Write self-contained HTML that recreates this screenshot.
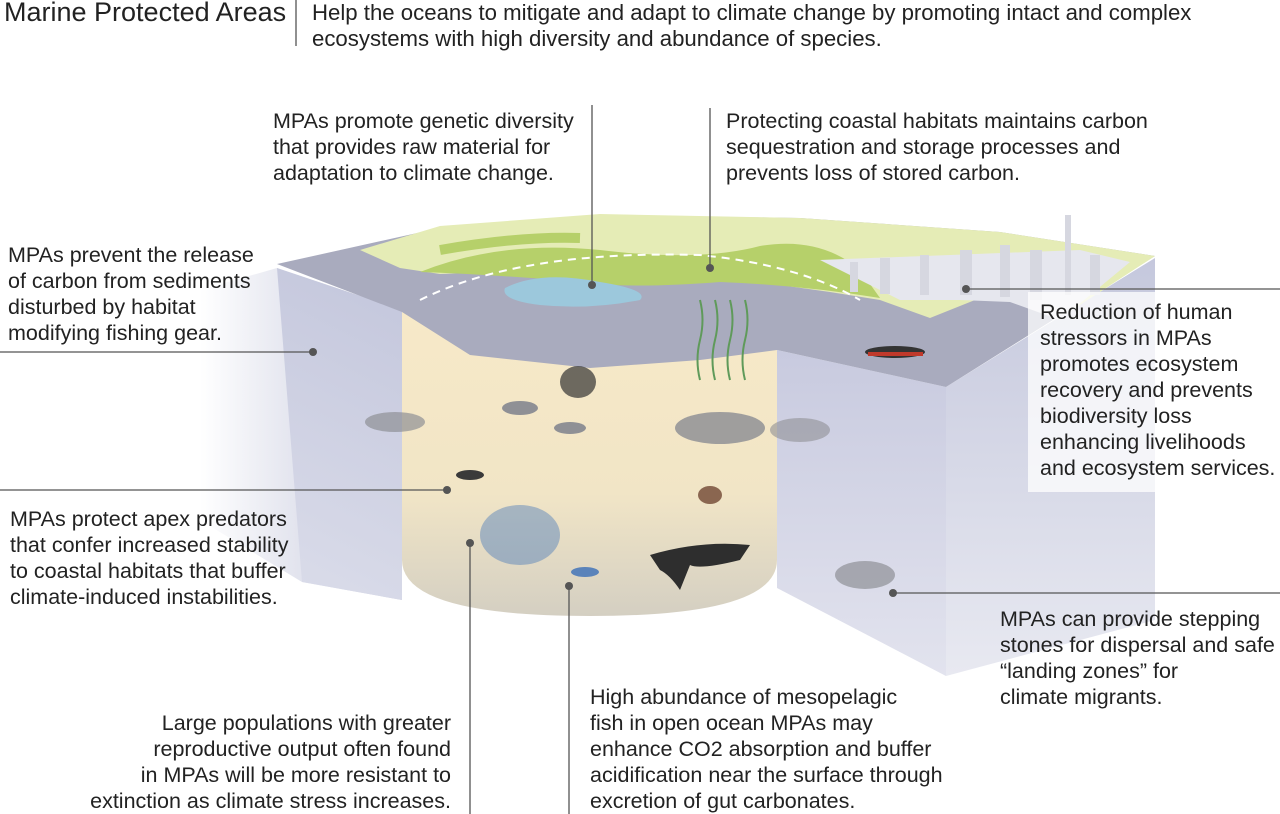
<!DOCTYPE html>
<html><head><meta charset="utf-8"><style>
body{margin:0;width:1280px;height:814px;background:#fff;overflow:hidden;position:relative;font-family:"Liberation Sans",Arial,sans-serif;color:#222}
.t{position:absolute;font-size:21.5px;line-height:26px;white-space:nowrap}
</style></head><body>
<svg width="1280" height="814" style="position:absolute;left:0;top:0">
<defs>
<linearGradient id="lf" x1="1" y1="0" x2="0" y2="0"><stop offset="0" stop-color="#c4c7dc"/><stop offset="1" stop-color="#c4c7dc" stop-opacity="0"/></linearGradient>
<linearGradient id="lf2" x1="0" y1="0" x2="0" y2="1"><stop offset="0" stop-color="#c3c6dc"/><stop offset="1" stop-color="#d9dbe9"/></linearGradient>
<linearGradient id="rf" x1="0" y1="0" x2="0" y2="1"><stop offset="0" stop-color="#c8cadf"/><stop offset="1" stop-color="#e2e3ee"/></linearGradient>
<linearGradient id="rf2" x1="0" y1="0" x2="0" y2="1"><stop offset="0" stop-color="#c5c8dd"/><stop offset="1" stop-color="#e8e9f1"/></linearGradient>
<linearGradient id="cy" x1="0" y1="0" x2="0" y2="1"><stop offset="0" stop-color="#f7e9c8"/><stop offset="0.6" stop-color="#f1e5c6"/><stop offset="1" stop-color="#d4cfc2"/></linearGradient>
</defs>
<polygon points="277,268 402,310 402,600 302,582 200,520 200,290" fill="url(#lf)"/>
<polygon points="277,268 402,310 402,600 302,582" fill="url(#lf2)" opacity="0.9"/>
<polygon points="777,350 946,387 946,676 777,588" fill="url(#rf)"/>
<polygon points="946,387 1155,258 1155,620 946,676" fill="url(#rf2)"/>
<path d="M402,310 L402,560 Q402,616 590,616 Q777,616 777,560 L777,350 Z" fill="url(#cy)"/>
<polygon points="277,264 440,228 600,215 800,218 1000,232 1155,256 946,387 777,350 700,360 590,368 470,355 402,312" fill="#a9abbe"/>
<path d="M360,250 L440,226 L600,214 L800,218 L1000,232 L1155,256 L1060,318 L1010,300 L975,300 L930,318 L880,300 L830,292 L780,285 L700,280 L640,282 L560,276 L500,272 L440,274 L400,268 Z" fill="#e5ecb6"/>
<path d="M420,272 Q500,240 600,250 Q700,262 760,246 Q820,236 860,270 L880,298 Q800,285 720,282 Q620,290 560,280 Q480,274 420,272Z" fill="#b6d06a"/>
<path d="M440,250 Q520,236 580,238" stroke="#b6d06a" stroke-width="10" fill="none"/>
<path d="M820,260 L1080,250 L1130,262 L1060,320 L1010,302 L960,300 L900,300 Z" fill="#e6e7ee"/>
<g fill="#d6d7e0"><rect x="850" y="262" width="8" height="30"/><rect x="880" y="258" width="10" height="36"/><rect x="920" y="255" width="9" height="40"/><rect x="960" y="250" width="12" height="45"/><rect x="1000" y="245" width="10" height="52"/><rect x="1030" y="250" width="12" height="50"/><rect x="1065" y="215" width="6" height="80"/><rect x="1090" y="255" width="10" height="40"/></g>
<path d="M420,300 Q520,250 700,255 Q800,265 860,300" stroke="#fff" stroke-width="2" stroke-dasharray="8,6" fill="none"/>
<path d="M505,288 Q540,270 600,282 Q650,290 640,300 Q590,310 540,305 Q500,300 505,288Z" fill="#9cc8dc"/>
<g stroke="#5f9a5a" stroke-width="2" fill="none"><path d="M700,300 q5,20 0,40 q-5,20 0,40"/><path d="M715,300 q5,20 0,40 q-5,20 0,40"/><path d="M730,300 q5,20 0,40 q-5,20 0,40"/><path d="M745,300 q5,20 0,40 q-5,20 0,40"/></g>
<ellipse cx="578" cy="382" rx="18" ry="16" fill="#333" opacity="0.7"/>
<g fill="#8f9095"><ellipse cx="520" cy="408" rx="18" ry="7"/><ellipse cx="570" cy="428" rx="16" ry="6"/>
<ellipse cx="720" cy="428" rx="45" ry="16" opacity="0.85"/><ellipse cx="800" cy="430" rx="30" ry="12" opacity="0.6"/><ellipse cx="395" cy="422" rx="30" ry="10" opacity="0.7"/><ellipse cx="865" cy="575" rx="30" ry="14" opacity="0.7"/></g>
<ellipse cx="470" cy="475" rx="14" ry="5" fill="#3a3a3a"/>
<ellipse cx="710" cy="495" rx="12" ry="9" fill="#8a6650"/>
<path d="M650,555 Q700,540 750,545 L740,560 Q700,570 690,565 L680,590 Q670,575 660,570Z" fill="#2e2e2e"/>
<g fill="#3a6fb8" opacity="0.8"><ellipse cx="520" cy="535" rx="40" ry="30" opacity="0.5"/><ellipse cx="585" cy="572" rx="14" ry="5"/></g>
<ellipse cx="895" cy="352" rx="30" ry="6" fill="#333"/><rect x="868" y="352" width="55" height="4" fill="#c0392b"/>
<g stroke="#555" stroke-width="1.3">
<line x1="296" y1="0" x2="296" y2="46"/>
<line x1="592" y1="105" x2="592" y2="285"/>
<line x1="710" y1="108" x2="710" y2="268"/>
<line x1="0" y1="352" x2="313" y2="352"/>
<line x1="0" y1="490" x2="447" y2="490"/>
<line x1="966" y1="289" x2="1280" y2="289"/>
<line x1="893" y1="593" x2="1280" y2="593"/>
<line x1="470" y1="543" x2="470" y2="814"/>
<line x1="569" y1="586" x2="569" y2="814"/>
</g>
<g fill="#555"><circle cx="592" cy="285" r="4"/><circle cx="710" cy="268" r="4"/><circle cx="313" cy="352" r="4"/><circle cx="447" cy="490" r="4"/><circle cx="966" cy="289" r="4"/><circle cx="893" cy="593" r="4"/><circle cx="470" cy="543" r="4"/><circle cx="569" cy="586" r="4"/></g>
<rect x="1028" y="292" width="252" height="200" fill="#fff" opacity="0.75"/>
</svg>
<div class="t" style="left:4px;top:-2px;font-size:27px;line-height:28px">Marine Protected Areas</div>
<div class="t" style="left:312px;top:0px;font-size:22.2px">Help the oceans to mitigate and adapt to climate change by promoting intact and complex<br>ecosystems with high diversity and abundance of species.</div>
<div class="t" style="left:273px;top:108px">MPAs promote genetic diversity<br>that provides raw material for<br>adaptation to climate change.</div>
<div class="t" style="left:726px;top:108px">Protecting coastal habitats maintains carbon<br>sequestration and storage processes and<br>prevents loss of stored carbon.</div>
<div class="t" style="left:8px;top:242px">MPAs prevent the release<br>of carbon from sediments<br>disturbed by habitat<br>modifying fishing gear.</div>
<div class="t" style="left:10px;top:506px">MPAs protect apex predators<br>that confer increased stability<br>to coastal habitats that buffer<br>climate-induced instabilities.</div>
<div class="t" style="left:1040px;top:299px">Reduction of human<br>stressors in MPAs<br>promotes ecosystem<br>recovery and prevents<br>biodiversity loss<br>enhancing livelihoods<br>and ecosystem services.</div>
<div class="t" style="left:1000px;top:606px">MPAs can provide stepping<br>stones for dispersal and safe<br>“landing zones” for<br>climate migrants.</div>
<div class="t" style="right:829px;top:710px;text-align:right">Large populations with greater<br>reproductive output often found<br>in MPAs will be more resistant to<br>extinction as climate stress increases.</div>
<div class="t" style="left:590px;top:684px">High abundance of mesopelagic<br>fish in open ocean MPAs may<br>enhance CO2 absorption and buffer<br>acidification near the surface through<br>excretion of gut carbonates.</div>
</body></html>
